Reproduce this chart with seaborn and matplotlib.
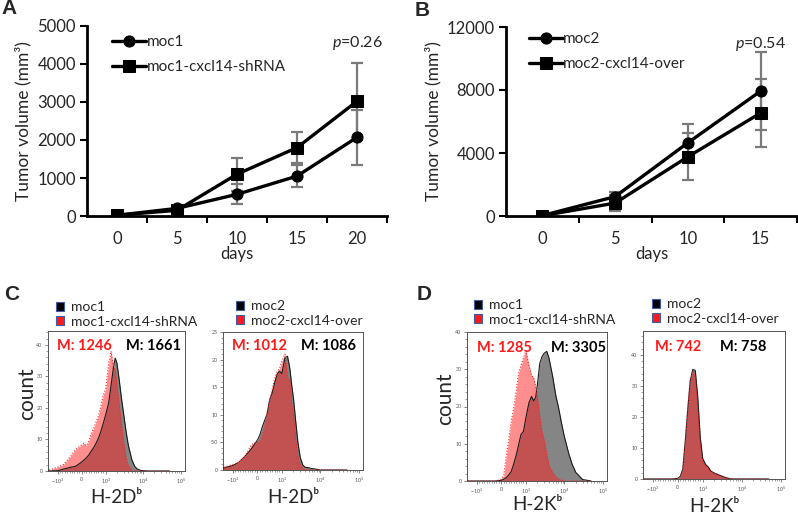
import matplotlib
matplotlib.use("Agg")
import matplotlib.pyplot as plt
import seaborn as sns
from matplotlib.patches import Patch

# ---- tumor volume (panels A and B)
days_a = [0, 5, 10, 15, 20]
moc1_vol = [20, 200, 570, 1050, 2070]
moc1_sd = [10, 60, 260, 280, 720]
moc1_sh_vol = [20, 150, 1100, 1800, 3020]
moc1_sh_sd = [10, 50, 430, 410, 1010]

days_b = [0, 5, 10, 15]
moc2_vol = [30, 1230, 4650, 7930]
moc2_sd = [20, 300, 1180, 2490]
moc2_over_vol = [20, 820, 3760, 6540]
moc2_over_sd = [20, 530, 1480, 2190]

# ---- flow cytometry histograms (panels C and D), counts at each intensity
flow_x = [-2000, -1500, -1000, -750, -500, -250, 0, 100, 200, 300, 400, 500, 600, 700, 800, 900,
          1000, 1200, 1400, 1600, 1800, 2000, 2300, 2600, 3000, 3500, 4000,
          5000, 6000, 7000, 8500, 10000, 13000, 16000, 20000, 30000, 50000]

h2d_moc1 = [0, 0, 0.1, 0.6, 1.1, 1.5, 2.8, 3.5, 4.2, 5.1, 6.3, 7.4, 8.8, 10.4, 12.5, 15.1,
            17.8, 21.5, 27.3, 32.6, 35.8, 34.2, 28.9, 23.6, 18.3, 12.5, 8.3,
            3.5, 1.4, 0.6, 0.2, 0.1, 0, 0, 0, 0, 0]
h2d_moc1_sh = [0, 0.5, 1.2, 2.1, 4.3, 6.8, 8.3, 8.8, 8.0, 9.5, 12.0, 13.5, 15.5, 17.5, 20.5, 24,
               26, 34, 38, 33, 32, 27, 21, 15.5, 9.5, 4, 1.8,
               0.3, 0, 0, 0, 0, 0, 0, 0, 0, 0]
h2d_moc2 = [0.2, 0.5, 0.8, 1.4, 2.5, 3.8, 5.4, 6.3, 7.8, 9.0, 10.2, 12.7, 13.9, 15.7, 17.3, 17.9,
            17.5, 20.3, 20.6, 18.5, 15.4, 13.0, 8.7, 5.1, 2.3, 0.9, 0.5,
            0.4, 0.25, 0.2, 0.1, 0, 0, 0, 0, 0, 0]
h2d_moc2_over = [0.3, 0.6, 1.0, 1.4, 2.5, 4.5, 5.3, 5.2, 6.5, 8.0, 10.5, 12.5, 14.5, 16.5, 17.8, 18.3,
                 19.7, 21, 16.8, 16.3, 12, 10, 5.5, 2.5, 1.0, 0.3, 0.1,
                 0, 0, 0, 0, 0, 0, 0, 0, 0, 0]
h2k_moc1 = [0, 0, 0, 0, 0, 0, 0.2, 0.5, 0.9, 1.6, 2.5, 4.5, 6.8, 9.6, 12.5, 13.3,
            17.0, 21.0, 22.7, 21.5, 22.5, 26, 31.5, 33.3, 34.3, 34.8, 33,
            28, 23, 20, 15.5, 12, 7.5, 4.5, 2.3, 0.4, 0]
h2k_moc1_sh = [0, 0, 0, 0, 0, 0, 0.4, 1.5, 6.8, 11, 16, 19.4, 23.9, 29, 31, 33,
               35, 31, 28.4, 27.7, 25.2, 22.5, 17.1, 13.5, 10.8, 7.2, 4.1,
               2.3, 1.2, 0.6, 0.3, 0, 0, 0, 0, 0, 0]
h2k_moc2 = [0, 0, 0, 0, 0, 0, 0.2, 0.9, 3.2, 12.4, 22.6, 31.7, 35.3, 35.0, 26.3, 13.4,
            6.5, 4.6, 3.8, 2.6, 2.2, 1.9, 1.6, 1.3, 1.0, 0.65, 0.4,
            0.1, 0, 0, 0, 0, 0, 0, 0, 0, 0]
h2k_moc2_over = [0, 0, 0, 0, 0, 0, 0.1, 0.6, 2.8, 11.5, 23, 32, 34.8, 33, 23, 11,
                 5.5, 4.0, 3.2, 2.3, 2.0, 1.8, 1.5, 1.2, 0.9, 0.5, 0.3,
                 0.1, 0, 0, 0, 0, 0, 0, 0, 0, 0]

sns.set_theme(style="ticks")
plt.rcParams["font.family"] = ["Lato", "DejaVu Sans"]
plt.rcParams["mathtext.fontset"] = "custom"
plt.rcParams["mathtext.rm"] = "Lato"
plt.rcParams["mathtext.it"] = "Lato:italic"

W, H = 798, 514
fig = plt.figure(figsize=(W / 100, H / 100), dpi=100)


def eixo(left, top, right, bottom):
    return fig.add_axes([left / W, 1 - bottom / H, (right - left) / W, (bottom - top) / H])


def painel_volume(ax, dias, series, ymax, yticks, p_txt, leg_xy):
    for nome, vol, sd, mk, ms in series:
        ax.errorbar(dias, vol, yerr=sd, fmt="none", ecolor="#7a7a7a", elinewidth=1.6,
                    capsize=4, capthick=1.6, zorder=1)
        sns.lineplot(x=dias, y=vol, ax=ax, color="black", linewidth=2.4, marker=mk,
                     markersize=ms, markeredgecolor="black", label=nome, zorder=3)
    n = len(dias)
    ax.set_xlim(-2.5, dias[-1] + 2.5)
    ax.set_ylim(0, ymax)
    ax.set_xticks([d + 2.5 for d in dias], [""] * n)
    ax.set_xticks(dias, [str(d) for d in dias], minor=True)
    ax.tick_params(axis="x", which="major", direction="out", length=5, width=1.5, color="black")
    ax.tick_params(axis="x", which="minor", length=0, pad=11, labelsize=12)
    ax.set_yticks(yticks, [str(v) for v in yticks])
    ax.tick_params(axis="y", direction="out", length=5, width=1.5, color="black", labelsize=12, pad=3)
    for s in ["left", "bottom"]:
        ax.spines[s].set_linewidth(2)
        ax.spines[s].set_color("black")
    sns.despine(ax=ax)
    ax.set_xlabel("days", fontsize=12, labelpad=-1)
    ax.set_ylabel("Tumor volume (mm³)", fontsize=12.5, labelpad=4)
    ax.text(dias[-1], ymax * 0.91, p_txt, ha="center", va="center", fontsize=11.5)
    handles, labels = ax.get_legend_handles_labels()
    ax.legend(handles, labels, loc="upper left", bbox_to_anchor=(leg_xy[0] / W, 1 - leg_xy[1] / H),
              bbox_transform=fig.transFigure, frameon=False, borderpad=0, borderaxespad=0,
              handlelength=2.2, handletextpad=0.05, labelspacing=0.75, fontsize=11)


ax_a = eixo(87, 26, 387, 216)
painel_volume(ax_a, days_a,
              [("moc1", moc1_vol, moc1_sd, "o", 8), ("moc1-cxcl14-shRNA", moc1_sh_vol, moc1_sh_sd, "s", 8.5)],
              5000, [0, 1000, 2000, 3000, 4000, 5000], "$p$=0.26", (112, 35))

ax_b = eixo(506, 27, 797, 216)
painel_volume(ax_b, days_b,
              [("moc2", moc2_vol, moc2_sd, "o", 8), ("moc2-cxcl14-over", moc2_over_vol, moc2_over_sd, "s", 8.5)],
              12000, [0, 4000, 8000, 12000], "$p$=0.54", (529, 32))


def painel_fluxo(ax, preto, vermelho, nomes, ymax, yticks, ylabels, m_txt, m_x, xlabel, xlab_y,
                 leg_xy, ylab_x=None):
    ax.set_xscale("symlog", linthresh=1000, linscale=0.576)
    ax.fill_between(flow_x, preto, color="#858585", lw=0, zorder=1)
    ax.fill_between(flow_x, vermelho, color="#ff2020", alpha=0.5, lw=0, zorder=2)
    sns.lineplot(x=flow_x, y=preto, ax=ax, color="#1a1a1a", lw=0.8, zorder=3)
    sns.lineplot(x=flow_x, y=vermelho, ax=ax, color="#ff2020", lw=0.8, ls=":", zorder=4)
    ax.set_xlim(-1800, 130000)
    ax.set_ylim(0, ymax)
    ax.set_xticks([-1000, 0, 1000, 10000, 100000],
                  ["$-10^3$", "0", "$10^3$", "$10^4$", "$10^5$"])
    menores = ([-k * 100 for k in range(1, 10)] + [k * 100 for k in range(1, 10)] +
               [k * 1000 for k in range(2, 10)] + [k * 10000 for k in range(2, 10)])
    ax.set_xticks(menores, minor=True)
    ax.set_yticks(yticks, ylabels)
    passo = (yticks[1] - yticks[0]) / 5
    ax.set_yticks([i * passo for i in range(int(ymax / passo) + 1)], minor=True)
    ax.tick_params(which="major", direction="out", length=2.5, width=0.5, color="#555555",
                   labelsize=3.8, labelcolor="#555555", pad=1.5)
    ax.tick_params(which="minor", direction="out", length=1.5, width=0.4, color="#555555")
    for s in ax.spines.values():
        s.set_linewidth(0.7)
        s.set_color("#555555")
    ax.text(m_x[0], 0.895, m_txt[0], transform=ax.transAxes, color="#ff1a1a",
            fontsize=10.5, fontweight="bold", va="center")
    ax.text(m_x[1], 0.895, m_txt[1], transform=ax.transAxes, color="black",
            fontsize=10.5, fontweight="bold", va="center")
    ax.set_xlabel(xlabel, fontsize=13.5, va="baseline")
    ax.xaxis.set_label_coords(0.5, xlab_y)
    if ylab_x is not None:
        ax.set_ylabel("count", fontsize=15, va="center")
        ax.yaxis.set_label_coords(ylab_x, 0.55)
    handles = [Patch(facecolor="black", edgecolor="#3a5da8", linewidth=0.8),
               Patch(facecolor="#ff1a1a", edgecolor="#3a5da8", linewidth=0.8)]
    ax.legend(handles, nomes, loc="upper left", bbox_to_anchor=(leg_xy[0] / W, 1 - leg_xy[1] / H),
              bbox_transform=fig.transFigure, frameon=False, borderpad=0, borderaxespad=0,
              handlelength=0.6, handleheight=0.6, handletextpad=0.45, labelspacing=0.2, fontsize=10)


ax_c1 = eixo(48, 331, 185, 471)
painel_fluxo(ax_c1, h2d_moc1, h2d_moc1_sh, ["moc1", "moc1-cxcl14-shRNA"], 44.4,
             [0, 10, 20, 30, 40], ["0", "10", "20", "30", "40"], ("M: 1246", "M: 1661"), (0.066, 0.57),
             "H-2Dᵇ", -0.23, (56, 301), -0.153)
ax_c2 = eixo(223, 332, 363, 470)
painel_fluxo(ax_c2, h2d_moc2, h2d_moc2_over, ["moc2", "moc2-cxcl14-over"], 25,
             [0, 5, 10, 15, 20, 25], ["0", "5.0", "10", "15", "20", "25"], ("M: 1012", "M: 1086"), (0.061, 0.555),
             "H-2Dᵇ", -0.24, (236, 300))
ax_d1 = eixo(467, 332, 607, 481)
painel_fluxo(ax_d1, h2k_moc1, h2k_moc1_sh, ["moc1", "moc1-cxcl14-shRNA"], 40,
             [0, 10, 20, 30, 40], ["0", "10", "20", "30", "40"], ("M: 1285", "M: 3305"), (0.073, 0.597),
             "H-2Kᵇ", -0.195, (474, 299), -0.157)
ax_d2 = eixo(643, 331, 785, 479)
painel_fluxo(ax_d2, h2k_moc2, h2k_moc2_over, ["moc2", "moc2-cxcl14-over"], 47.7,
             [0, 10, 20, 30, 40], ["0", "10", "20", "30", "40"], ("M: 742", "M: 758"), (0.085, 0.541),
             "H-2Kᵇ", -0.222, (652, 298))

# panel letters
for letra, x, y in [("A", 1, 14), ("B", 415, 16.5), ("C", 4, 300), ("D", 417, 300.5)]:
    fig.text(x / W, 1 - y / H, letra, fontsize=15, fontweight="bold", va="baseline",
             family="Liberation Sans")

fig.savefig("out.png", dpi=100)
